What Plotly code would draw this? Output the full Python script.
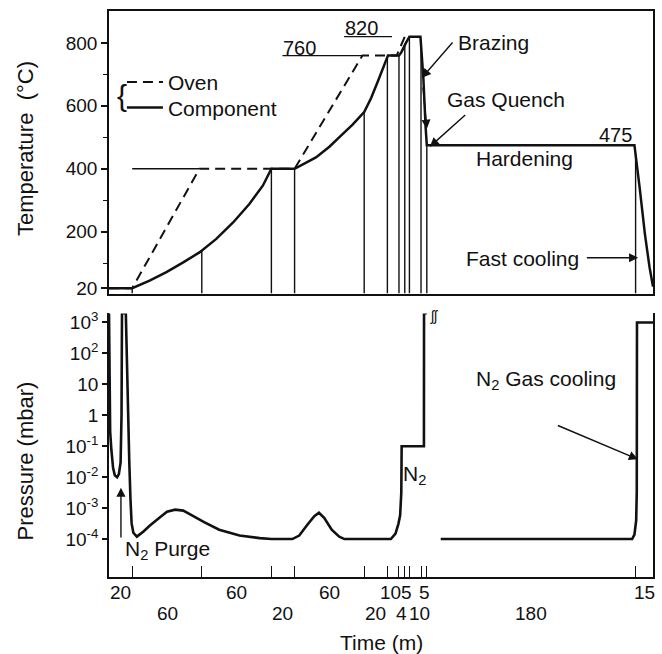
import numpy as np
import plotly.graph_objects as go

# ---------------- data ----------------
segment_minutes = [20, 60, 60, 20, 60, 20, 10, 5, 4, 10, 5, 180, 15]
label_row = ["upper", "lower", "upper", "lower", "upper", "lower", "upper",
             "upper", "lower", "lower", "upper", "lower", "upper"]
label_nudge_px = [0, 0, 0, 0, 0, 0, -3, 5, -6, 4, 1, 0, 0]

oven_t = [0, 20, 78, 160, 218.5, 248, 255]
oven_temp = [20, 20, 400, 400, 760, 760, 820]

comp_t = [0, 20, 35, 49.5, 64, 78, 92.5, 107, 121, 132.6, 140, 160, 178.4, 190,
          200, 210, 220, 226, 232, 236, 240.5, 250, 252, 256, 259, 268.5, 271,
          273, 274, 453, 455, 457.5, 462, 466, 469]
comp_temp = [20, 20, 44, 71, 102, 134, 177, 229, 288, 346, 400, 400, 436, 470,
             505, 540, 580, 625, 680, 718, 760, 760, 770, 800, 820, 820, 690,
             530, 475, 475, 420, 340, 193, 87, 25]

guide_400_t = [20, 78]
guide_760_t = [149.5, 218.5]
guide_820_t = [202.7, 244]

temp_ticks = [20, 200, 400, 600, 800]

press_t = [0, 0.5, 1.0, 2.0, 3.5, 5.0, 7.0, 8.5, 10.0, 10.8, 11.2, 14.5, 15.5,
           16.5, 17.5, 18.5, 19.5, 21, 24, 30, 35, 44, 50, 57, 64, 70, 82, 95,
           112.5, 130, 140, 158, 164, 171, 177, 181, 185.5, 192, 198.5, 203,
           243, 247, 249.5, 251, 252, 252.3, 271.5, 271.6, 274, None,
           286, 451, 453, 454.5, 455, 455.2, 469]
press_mbar = [2000, 10, 0.3, 0.08, 0.02, 0.0115, 0.01, 0.0125, 0.03, 1, 2000,
              2000, 30, 1, 0.03, 0.002, 3.2e-4, 1.6e-4, 1.2e-4, 1.8e-4, 2.7e-4,
              5.1e-4, 7.6e-4, 8.9e-4, 8.3e-4, 6.3e-4, 3.5e-4, 2.0e-4, 1.3e-4,
              1.07e-4, 1e-4, 1e-4, 1.3e-4, 2.9e-4, 5.5e-4, 7.1e-4, 4.9e-4,
              2.0e-4, 1.2e-4, 1e-4, 1e-4, 1.5e-4, 3.1e-4, 5.9e-4, 3.2e-3, 0.1,
              0.1, 2000, 2000, None,
              1e-4, 1e-4, 1.4e-4, 4e-4, 3.2e-3, 1000, 1000]

press_tickvals = [1e-4, 1e-3, 1e-2, 1e-1, 1, 10, 100, 1000]
press_ticktext = ["10<sup>-4</sup>", "10<sup>-3</sup>", "10<sup>-2</sup>",
                  "10<sup>-1</sup>", "1", "10", "10<sup>2</sup>", "10<sup>3</sup>"]

# ---------------- derived ----------------
boundaries = np.concatenate([[0], np.cumsum(segment_minutes)])
t_end = float(boundaries[-1])
inner_b = boundaries[1:-1]
y_floor = 3.2

vx, vy = [], []
for b in inner_b:
    vx += [b, b, None]
    vy += [y_floor, float(np.interp(b, comp_t, comp_temp)), None]

FONT = "Liberation Sans, Arial, Helvetica, sans-serif"
INK = "#111111"

fig = go.Figure()

fig.add_trace(go.Scatter(x=vx, y=vy, mode="lines", line=dict(color=INK, width=1.4),
                         showlegend=False, hoverinfo="skip", xaxis="x", yaxis="y"))
for gt, gv in [(guide_400_t, 400), (guide_760_t, 760), (guide_820_t, 820)]:
    fig.add_trace(go.Scatter(x=gt, y=[gv, gv], mode="lines",
                             line=dict(color=INK, width=1.3),
                             showlegend=False, hoverinfo="skip", xaxis="x", yaxis="y"))

fig.add_trace(go.Scatter(x=oven_t, y=oven_temp, mode="lines", name="Oven",
                         line=dict(color=INK, width=2, dash="10px,6px"),
                         legend="legend", xaxis="x", yaxis="y"))
fig.add_trace(go.Scatter(x=comp_t, y=comp_temp, mode="lines", name="Component",
                         line=dict(color=INK, width=2.5),
                         legend="legend2", xaxis="x", yaxis="y"))

fig.add_trace(go.Scatter(x=press_t, y=press_mbar, mode="lines",
                         line=dict(color=INK, width=2.6), connectgaps=False,
                         showlegend=False, hoverinfo="skip", xaxis="x2", yaxis="y2"))

ann = []
def txt(text, x, y, xref="x", yref="y", size=21, **kw):
    d = dict(text=text, x=x, y=y, xref=xref, yref=yref, showarrow=False,
             font=dict(family=FONT, size=size, color=INK),
             xanchor="center", yanchor="middle")
    d.update(kw)
    ann.append(d)

def arrow(x0, y0, x1, y1, xref="x", yref="y"):
    ann.append(dict(text="", x=x1, y=y1, ax=x0, ay=y0, xref=xref, yref=yref,
                    axref=xref, ayref=yref, showarrow=True, arrowhead=2,
                    arrowsize=1.3, arrowwidth=1.4, arrowcolor=INK))

txt("760", 164, 784, size=20)
txt("820", 218, 848, size=20)
txt("Brazing", 331.6, 800)
txt("Gas Quench", 342, 619)
txt("475", 436.4, 508, size=20)
txt("Hardening", 358.2, 432)
txt("Fast cooling", 356.5, 114)
txt("{", 11, 632, size=30)
arrow(297.3, 806, 269.8, 689)
arrow(270.6, 663, 274.0, 527)
arrow(308.4, 575, 276.6, 470)
arrow(410.7, 117, 456.2, 117)

txt("N<sub>2</sub> Purge", 50.7, -4.34, xref="x2", yref="y2")
txt("N<sub>2</sub>", 263, -1.94, xref="x2", yref="y2")
txt("N<sub>2</sub> Gas cooling", 377, 1.14, xref="x2", yref="y2")
txt("ʃʃ", 281, 0.462, xref="x2", yref="paper", size=14)
arrow(10.3, -4.0, 10.3, -2.34, xref="x2", yref="y2")
arrow(385.7, -0.31, 456, -1.42, xref="x2", yref="y2")

for i, m in enumerate(segment_minutes):
    mid = (boundaries[i] + boundaries[i + 1]) / 2
    yy = -0.0282 if label_row[i] == "upper" else -0.0653
    txt(str(m), mid, yy, xref="x2", yref="paper", size=19, xshift=label_nudge_px[i])

txt("Temperature  (°C)", -0.1538, 0.7566, xref="paper", yref="paper", size=22, textangle=-90)
txt("Pressure (mbar)", -0.1538, 0.2046, xref="paper", yref="paper", size=22, textangle=-90)
txt("Time (m)", 0.5, -0.1164, xref="paper", yref="paper", size=21)

leg_common = dict(xanchor="left", yanchor="top", bgcolor="rgba(0,0,0,0)",
                  font=dict(family=FONT, size=21, color=INK), itemwidth=36,
                  tracegroupgap=0)

fig.update_layout(
    width=662, height=654,
    margin=dict(l=109, r=7, t=10, b=77),
    paper_bgcolor="white", plot_bgcolor="white",
    font=dict(family=FONT, color=INK, size=19),
    showlegend=True,
    legend=dict(x=0.0238, y=0.910, **leg_common),
    legend2=dict(x=0.0238, y=0.865, **leg_common),
    annotations=ann,
    xaxis=dict(domain=[0, 1], range=[0, t_end], anchor="y", showline=True, mirror=True,
               linecolor=INK, linewidth=1.6, ticks="", showticklabels=False,
               showgrid=False, zeroline=False),
    yaxis=dict(domain=[0.50088, 1], range=[y_floor, 901.6], anchor="x", showline=True,
               mirror=True, linecolor=INK, linewidth=1.6, tickvals=temp_ticks,
               ticks="outside", ticklen=6, tickwidth=1.5, tickcolor=INK,
               minor=dict(tickvals=[100, 300, 500, 700], ticks="outside", ticklen=4,
                          tickcolor=INK, tickwidth=1.2),
               tickfont=dict(family=FONT, size=19, color=INK),
               showgrid=False, zeroline=False),
    xaxis2=dict(domain=[0, 1], range=[0, t_end], anchor="y2", showline=True, mirror=False,
                linecolor=INK, linewidth=1.6, tickvals=list(inner_b), ticks="inside",
                ticklen=11, tickwidth=1.4, tickcolor=INK, showticklabels=False,
                showgrid=False, zeroline=False),
    yaxis2=dict(domain=[0, 0.46561], type="log", range=[-5.2258, 3.29], anchor="x2",
                showline=True, mirror=True, linecolor=INK, linewidth=1.6,
                tickvals=press_tickvals, ticktext=press_ticktext, ticks="outside",
                ticklen=5, tickwidth=1.5, tickcolor=INK,
                tickfont=dict(family=FONT, size=19, color=INK),
                showgrid=False, zeroline=False),
)

fig.write_html(
    "out.html",
    config={"displayModeBar": False},
    post_script="document.body.style.margin='0';document.documentElement.style.overflow='hidden';",
)
